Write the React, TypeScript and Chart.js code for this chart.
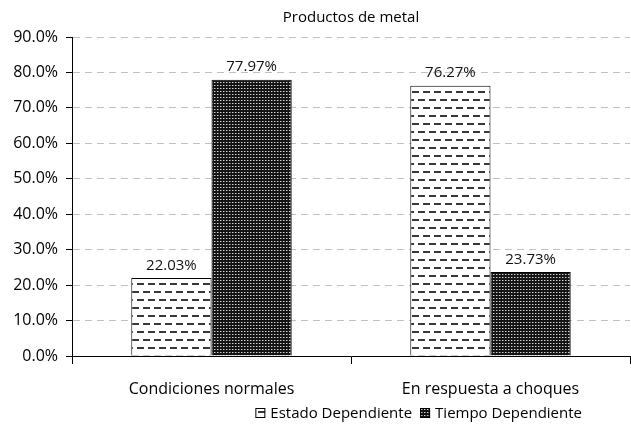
import React, { useEffect, useRef } from "react";
import { Chart, registerables } from "chart.js";

Chart.register(...registerables);

const categories = ["Condiciones normales", "En respuesta a choques"];
const estadoValues = [22.03, 76.27];
const tiempoValues = [77.97, 23.73];
const seriesNames = ["Estado Dependiente", "Tiempo Dependiente"];
const titleText = "Productos de metal";
const yMax = 90;
const yStep = 10;

const FONT = "'Open Sans', sans-serif";

function makeDashPattern(): CanvasPattern | string {
  const c = document.createElement("canvas");
  c.width = 11;
  c.height = 16;
  const ctx = c.getContext("2d");
  if (!ctx) return "#fff";
  ctx.fillStyle = "#ffffff";
  ctx.fillRect(0, 0, 11, 16);
  ctx.fillStyle = "#383838";
  ctx.fillRect(0, 3, 7, 2);
  ctx.fillRect(5, 11, 6, 2);
  ctx.fillRect(0, 11, 1, 2);
  return ctx.createPattern(c, "repeat") || "#fff";
}

function makeDotPattern(): CanvasPattern | string {
  const c = document.createElement("canvas");
  c.width = 3;
  c.height = 3;
  const ctx = c.getContext("2d");
  if (!ctx) return "#333";
  ctx.fillStyle = "#141414";
  ctx.fillRect(0, 0, 3, 3);
  ctx.fillStyle = "#d8d8d8";
  ctx.fillRect(1, 1, 1, 1);
  ctx.fillStyle = "#6a6a6a";
  ctx.fillRect(2, 1, 1, 1);
  return ctx.createPattern(c, "repeat") || "#333";
}

const valueLabels = {
  id: "valueLabels",
  afterDatasetsDraw(chart: any) {
    const ctx = chart.ctx;
    ctx.save();
    ctx.font = `15px ${FONT}`;
    ctx.fillStyle = "#111";
    ctx.textAlign = "center";
    ctx.textBaseline = "bottom";
    chart.data.datasets.forEach((ds: any, i: number) => {
      const meta = chart.getDatasetMeta(i);
      meta.data.forEach((bar: any, j: number) => {
        const v = ds.data[j];
        ctx.fillText(v.toFixed(2) + "%", bar.x, bar.y - 5);
      });
    });
    ctx.restore();
  },
};

const titleAndLegend = {
  id: "titleAndLegend",
  afterDraw(chart: any) {
    const ctx = chart.ctx;
    const area = chart.chartArea;
    ctx.save();
    // title centred over the plot area
    ctx.font = `15px ${FONT}`;
    ctx.fillStyle = "#000";
    ctx.textAlign = "center";
    ctx.textBaseline = "middle";
    ctx.fillText(titleText, (area.left + area.right) / 2, 18);

    // legend, right-aligned below the category labels
    ctx.font = `15px ${FONT}`;
    ctx.textAlign = "left";
    const box = 10;
    const gapBoxText = 5;
    const gapItems = 8;
    const items = chart.data.datasets.map((ds: any) => ({
      label: ds.label,
      fill: ds.backgroundColor,
      w: box + gapBoxText + ctx.measureText(ds.label).width,
    }));
    const total =
      items.reduce((s: number, it: any) => s + it.w, 0) + gapItems * (items.length - 1);
    let x = area.right - 48 - total;
    const y = 413;
    items.forEach((it: any) => {
      ctx.fillStyle = it.fill;
      ctx.fillRect(x, y - box / 2, box, box);
      ctx.strokeStyle = "#000";
      ctx.lineWidth = 1;
      ctx.strokeRect(x + 0.5, y - box / 2 + 0.5, box - 1, box - 1);
      ctx.fillStyle = "#000";
      ctx.fillText(it.label, x + box + gapBoxText, y + 1);
      x += it.w + gapItems;
    });
    ctx.restore();
  },
};

export default function App() {
  const ref = useRef<HTMLCanvasElement | null>(null);
  useEffect(() => {
    if (!ref.current) return;
    const dash = makeDashPattern();
    const dot = makeDotPattern();
    const chart = new Chart(ref.current, {
      type: "bar",
      data: {
        labels: categories,
        datasets: [
          {
            label: seriesNames[0],
            data: estadoValues,
            backgroundColor: dash as any,
            borderColor: "#000",
            borderWidth: 1,
          },
          {
            label: seriesNames[1],
            data: tiempoValues,
            backgroundColor: dot as any,
            borderColor: "#000",
            borderWidth: 1,
          },
        ],
      },
      options: {
        animation: false,
        responsive: false,
        maintainAspectRatio: false,
        layout: { padding: { left: 0, right: 1, top: 37, bottom: 0 } },
        datasets: {
          bar: { categoryPercentage: 0.575, barPercentage: 1 },
        },
        plugins: {
          title: { display: false },
          legend: { display: false },
          tooltip: { enabled: false },
        },
        scales: {
          x: {
            afterFit: (scale: any) => {
              scale.height = 72;
            },
            grid: {
              drawOnChartArea: false,
              drawTicks: true,
              tickLength: 8,
              tickColor: "#000",
            },
            border: { color: "#000", width: 1 },
            ticks: {
              color: "#000",
              font: { family: FONT, size: 16 },
              padding: 16,
            },
          },
          y: {
            min: 0,
            max: yMax,
            afterFit: (scale: any) => {
              scale.width = 72;
            },
            ticks: {
              stepSize: yStep,
              color: "#000",
              font: { family: FONT, size: 16 },
              padding: 8,
              callback: (v: any) => Number(v).toFixed(1) + "%",
            },
            grid: {
              color: "#c0c0c0",
              tickColor: "#000",
              tickLength: 6,
              tickBorderDash: [],
            },
            border: { color: "#000", width: 1, dash: [7, 5] },
          },
        },
      },
      plugins: [valueLabels, titleAndLegend],
    });
    return () => chart.destroy();
  }, []);
  return (
    <div style={{ position: "fixed", left: 0, top: 0, width: 631, height: 428, background: "#fff" }}>
      <canvas ref={ref} width={631} height={428} />
    </div>
  );
}
